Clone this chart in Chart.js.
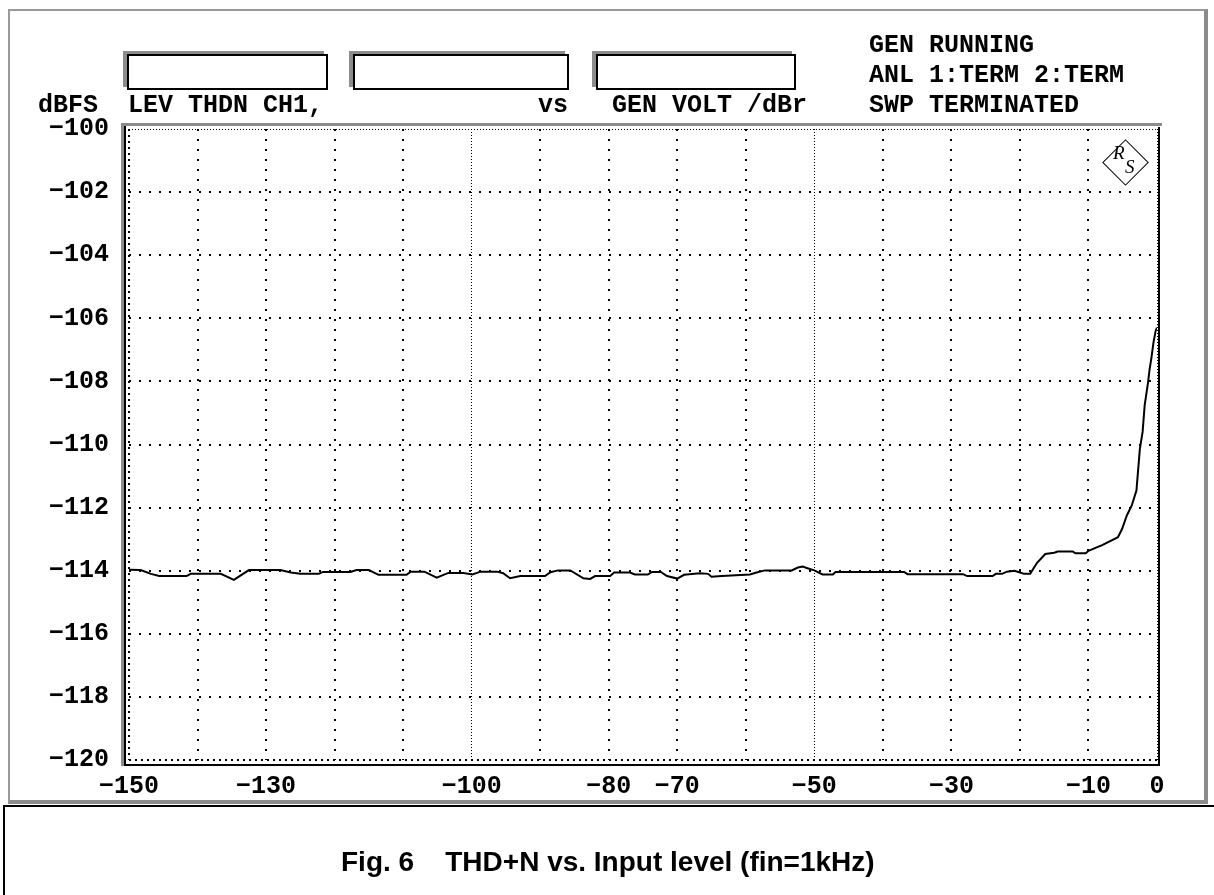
<!DOCTYPE html>
<html>
<head>
<meta charset="utf-8">
<script src="https://cdn.jsdelivr.net/npm/chart.js@4.4.0/dist/chart.umd.min.js"></script>
<style>
body{margin:0;background:#fff;}
#page{position:relative;width:1214px;height:895px;overflow:hidden;background:#fff;}
#chart{position:absolute;left:0;top:0;}
.t{position:absolute;font-family:"Liberation Mono",monospace;font-weight:bold;font-size:25px;line-height:25px;white-space:pre;color:#000;}
.box{position:absolute;border:2px solid #000;box-shadow:-4px -3px 0 #8c8c8c;box-sizing:border-box;}
#outer{position:absolute;left:8px;top:9px;width:1200px;height:795px;box-sizing:border-box;border-top:2px solid #9a9a9a;border-left:2px solid #9a9a9a;border-right:4px solid #8c8c8c;border-bottom:4px solid #8c8c8c;}
#capbox{position:absolute;left:3px;top:805px;width:1240px;height:120px;border-top:2px solid #000;border-left:2px solid #000;}
#caption{position:absolute;left:341px;top:846px;font-family:"Liberation Sans",Arial,sans-serif;font-weight:bold;font-size:28px;white-space:pre;color:#000;}
#logo{position:absolute;left:1109px;top:146px;width:33px;height:33px;border:1.5px solid #000;transform:rotate(45deg);box-sizing:border-box;}
.lg{position:absolute;font-family:"Liberation Serif",serif;font-style:italic;font-size:19px;color:#000;}
</style>
</head>
<body>
<div id="page">
  <div id="outer"></div>
  <div id="capbox"></div>
  <canvas id="chart" width="1214" height="895"></canvas>

  <div class="box" style="left:127px;top:54px;width:201px;height:36px;"></div>
  <div class="box" style="left:353px;top:54px;width:216px;height:36px;"></div>
  <div class="box" style="left:596px;top:54px;width:200px;height:36px;"></div>

  <div class="t" style="left:38px;top:93px;">dBFS</div>
  <div class="t" style="left:128px;top:93px;">LEV THDN CH1,</div>
  <div class="t" style="left:538px;top:93px;">vs</div>
  <div class="t" style="left:612px;top:93px;">GEN VOLT /dBr</div>
  <div class="t" style="left:869px;top:33px;">GEN RUNNING</div>
  <div class="t" style="left:869px;top:63px;">ANL 1:TERM 2:TERM</div>
  <div class="t" style="left:869px;top:93px;">SWP TERMINATED</div>

  <div id="logo"></div>
  <div class="lg" style="left:1113px;top:142px;">R</div>
  <div class="lg" style="left:1125px;top:156px;">S</div>

  <div id="caption">Fig. 6    THD+N vs. Input level (fin=1kHz)</div>
</div>

<script>
// sweep: generator level (dBr) and measured THD+N (dBFS)
var inputLevel = [-150, -148.3, -146.8, -145.6, -141.6, -141.0, -136.6, -134.7, -132.5, -127.9,
  -126.4, -125.0, -122.3, -121.7, -117.7, -116.8, -115.0, -113.6, -109.5, -108.9,
  -106.9, -105.1, -103.4, -101.2, -99.9, -98.7, -96.3, -95.4, -94.4, -92.9,
  -89.3, -88.5, -87.4, -85.6, -83.7, -82.7, -82.0, -79.8, -79.2, -76.9,
  -76.2, -74.3, -73.7, -72.4, -71.5, -70.0, -69.0, -66.7, -65.5, -65.0,
  -63.5, -59.4, -58.3, -57.2, -53.3, -52.4, -51.7, -51.0, -50.0, -48.8,
  -47.3, -46.9, -36.9, -36.4, -28.3, -27.7, -24.0, -23.5, -22.6, -21.9,
  -20.8, -20.1, -19.4, -18.5, -17.5, -16.3, -15.0, -14.5, -12.3, -11.9,
  -10.4, -10.0, -8.0, -5.7, -5.1, -4.4, -3.7, -3.0, -2.5, -2.1,
  -1.8, -1.3, -1.1, -0.8, -0.5, -0.2, 0];
var thdn = [-113.97, -113.98, -114.10, -114.17, -114.17, -114.10, -114.10, -114.29, -113.98, -113.98,
  -114.06, -114.10, -114.10, -114.04, -114.04, -113.98, -113.98, -114.13, -114.13, -114.03,
  -114.03, -114.22, -114.07, -114.07, -114.12, -114.03, -114.03, -114.08, -114.24, -114.17,
  -114.17, -114.05, -113.99, -113.99, -114.24, -114.26, -114.17, -114.17, -114.06, -114.06,
  -114.12, -114.12, -114.04, -114.04, -114.17, -114.25, -114.13, -114.08, -114.10, -114.19,
  -114.17, -114.12, -114.05, -113.99, -113.99, -113.90, -113.87, -113.92, -113.99, -114.12,
  -114.12, -114.04, -114.04, -114.11, -114.11, -114.17, -114.17, -114.10, -114.10, -114.03,
  -114.00, -114.05, -114.10, -114.10, -113.75, -113.47, -113.43, -113.39, -113.39, -113.45,
  -113.45, -113.37, -113.19, -112.94, -112.68, -112.25, -111.94, -111.46, -110.14, -109.6,
  -108.76, -108.02, -107.65, -107.23, -106.75, -106.4, -106.3];

var xTickLabels = [-150, -130, -100, -80, -70, -50, -30, -10, 0];
var xDense = [-100, -50];
var xMin = -150, xMax = 0, xStep = 10;
var yMin = -120, yMax = -100, yStep = 2;

function fmt(v){
  return String(v).replace('-', '\u2212');
}

var points = [];
for (var i = 0; i < inputLevel.length; i++) {
  points.push({x: inputLevel[i], y: thdn[i]});
}

var frame = {
  id: 'frame',
  afterDatasetsDraw: function(chart){
    var c = chart.ctx, a = chart.chartArea;
    c.save();
    c.fillStyle = '#8c8c8c';
    c.fillRect(a.left - 8, a.top - 6, a.right - a.left + 13, 3);
    c.fillRect(a.left - 8, a.top - 6, 3, a.bottom - a.top + 12);
    c.fillStyle = '#000';
    c.fillRect(a.left - 5, a.top - 3, 2, a.bottom - a.top + 9);
    c.fillRect(a.right + 1, a.top - 2, 2, a.bottom - a.top + 8);
    c.fillRect(a.left - 5, a.bottom + 4, a.right - a.left + 8, 2);
    c.restore();
  }
};

var font = {family: 'Liberation Mono', weight: 'bold', size: 25};

function isDense(v, axis){
  if (axis === 'x') return v === xMax || xDense.indexOf(v) >= 0;
  return v === yMax;
}
function tickVal(ctx){
  return ctx.tick ? Math.round(ctx.tick.value) : 0;
}

new Chart(document.getElementById('chart').getContext('2d'), {
  type: 'line',
  data: {
    datasets: [{
      data: points,
      borderColor: '#000',
      borderWidth: 2,
      pointRadius: 0,
      tension: 0,
      fill: false
    }]
  },
  options: {
    responsive: false,
    animation: false,
    layout: {padding: {left: 0, top: 129, right: 57, bottom: 85}},
    plugins: {legend: {display: false}, tooltip: {enabled: false}},
    scales: {
      x: {
        type: 'linear',
        min: xMin, max: xMax,
        afterFit: function(s){ s.height = 50; },
        ticks: {
          stepSize: xStep, autoSkip: false, maxRotation: 0,
          color: '#000', font: font, padding: 12,
          callback: function(v){
            return xTickLabels.indexOf(Math.round(v)) >= 0 ? fmt(Math.round(v)) : '';
          }
        },
        grid: {
          color: '#000', drawTicks: false,
          lineWidth: function(ctx){ return isDense(tickVal(ctx), 'x') ? 1 : 2; }
        },
        border: {
          display: false,
          dash: function(ctx){
            var v = tickVal(ctx);
            if (v === xMin) return [2, 4];
            if (isDense(v, 'x')) return [1, 2];
            return [2, 8];
          }
        }
      },
      y: {
        min: yMin, max: yMax,
        afterFit: function(s){ s.width = 129; },
        ticks: {
          stepSize: yStep, color: '#000', font: font, padding: 20,
          callback: function(v){ return fmt(v); }
        },
        grid: {
          color: '#000', drawTicks: false,
          lineWidth: function(ctx){ return isDense(tickVal(ctx), 'y') ? 1 : 2; }
        },
        border: {
          display: false,
          dash: function(ctx){
            var v = tickVal(ctx);
            if (isDense(v, 'y')) return [1, 2];
            if (v === yMin) return [2, 4];
            return [2, 8];
          }
        }
      }
    }
  },
  plugins: [frame]
});
</script>
</body>
</html>
